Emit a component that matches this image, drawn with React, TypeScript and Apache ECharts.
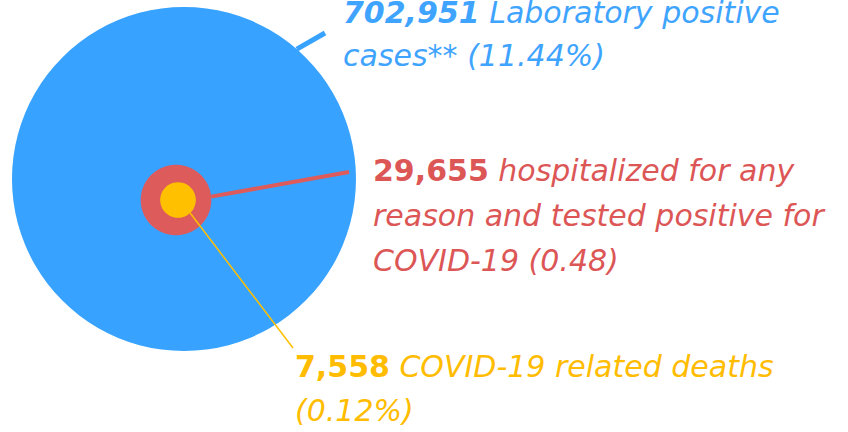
import React, { useEffect, useRef } from "react";
import * as echarts from "echarts";

// ---- data ----
const values: number[] = [702951, 29655, 7558];
const valueLabels: string[] = ["702,951", "29,655", "7,558"];
const descriptions: string[] = [
  "Laboratory positive\ncases**",
  "hospitalized for any\nreason and tested positive for\nCOVID-19",
  "COVID-19 related deaths\n",
];
const shares: string[] = ["(11.44%)", "(0.48)", "(0.12%)"];
const colors: string[] = ["#37A2FF", "#DE5B5B", "#FFC000"];
const textColors: string[] = ["#3FA4FF", "#DC5656", "#FFBC00"];

// ---- layout (not data) ----
const MAX_R = 172;
const centers: [number, number][] = [
  [184, 179],
  [176, 200],
  [178, 200],
];
const leaderAngles: number[] = [49, 5.5, -47];
const leaderEnds: [number, number][] = [
  [325, 33],
  [349, 172],
  [293, 348],
];
const leaderWidths: number[] = [5, 4, 1.5];
const textPos: [number, number][] = [
  [343, -9],
  [373, 148],
  [295, 344],
];
const lineHeights: number[] = [43, 45, 44];
const numItalic: boolean[] = [true, false, false];
const FONT = "DejaVu Sans";
const FS = 30;

export default function App() {
  const ref = useRef<HTMLDivElement>(null);
  useEffect(() => {
    if (!ref.current) return;
    const chart = echarts.init(ref.current, undefined, { renderer: "svg" });
    const maxV = Math.max(...values);
    const radii = values.map((v) => MAX_R * Math.sqrt(v / maxV));

    const series: any[] = values.map((v, i) => ({
      type: "pie",
      name: valueLabels[i],
      center: centers[i],
      radius: [0, radii[i]],
      silent: true,
      z: 2 + i,
      label: { show: false },
      labelLine: { show: false },
      emphasis: { disabled: true },
      itemStyle: { color: colors[i], borderWidth: 0 },
      data: [{ value: v, name: valueLabels[i] }],
    }));

    const graphics: any[] = [];
    values.forEach((_, i) => {
      const a = (leaderAngles[i] * Math.PI) / 180;
      const sx = centers[i][0] + radii[i] * Math.cos(a);
      const sy = centers[i][1] - radii[i] * Math.sin(a);
      graphics.push({
        type: "line",
        silent: true,
        z: 10 + i,
        shape: { x1: sx, y1: sy, x2: leaderEnds[i][0], y2: leaderEnds[i][1] },
        style: { stroke: colors[i], lineWidth: leaderWidths[i] },
      });
      const d = descriptions[i];
      const full = d + (d.endsWith("\n") ? "" : " ") + shares[i];
      const lines = full.split("\n");
      const txt = lines
        .map((l, k) =>
          k === 0 ? `{n|${valueLabels[i]}} {d|${l}}` : `{d|${l}}`
        )
        .join("\n");
      graphics.push({
        type: "text",
        silent: true,
        z: 20,
        x: textPos[i][0],
        y: textPos[i][1],
        style: {
          text: txt,
          fill: textColors[i],
          fontFamily: FONT,
          fontSize: FS,
          lineHeight: lineHeights[i],
          align: "left",
          verticalAlign: "top",
          rich: {
            n: {
              fontFamily: FONT,
              fontSize: FS,
              fontWeight: "bold",
              fontStyle: numItalic[i] ? "italic" : "normal",
              fill: textColors[i],
              lineHeight: lineHeights[i],
            },
            d: {
              fontFamily: FONT,
              fontSize: FS,
              fontStyle: "italic",
              fill: textColors[i],
              lineHeight: lineHeights[i],
            },
          },
        },
      });
    });

    chart.setOption({
      animation: false,
      backgroundColor: "#ffffff",
      series,
      graphic: graphics,
    });
    return () => chart.dispose();
  }, []);
  return (
    <div
      ref={ref}
      style={{ width: 848, height: 432, position: "absolute", left: 0, top: 0 }}
    />
  );
}
